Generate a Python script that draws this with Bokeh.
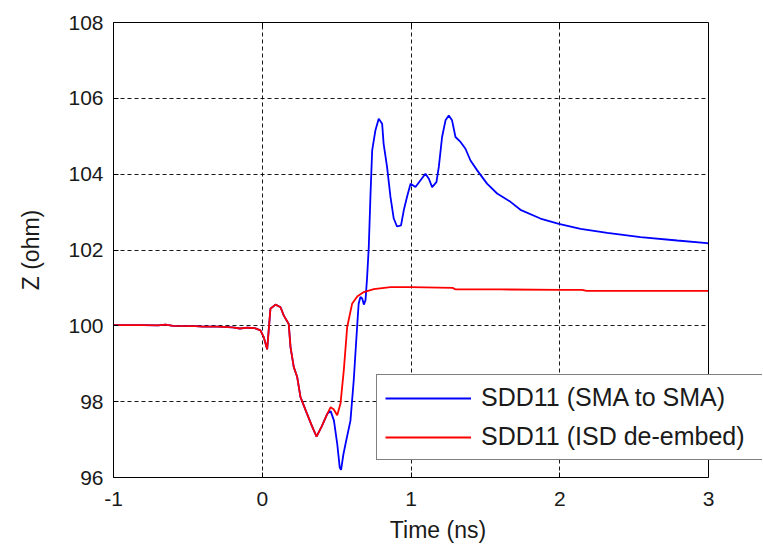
from bokeh.plotting import figure
from bokeh.models import (Range1d, FixedTicker, Legend, LegendItem, LinearAxis,
                          BoxAnnotation, Span)
from bokeh.embed import file_html
from bokeh.resources import INLINE

# Data
red_t = [-1.0, -0.8, -0.7, -0.65, -0.6, -0.45, -0.4, -0.3, -0.2, -0.15, -0.1, -0.05,
         -0.012, 0.01, 0.033, 0.055, 0.089, 0.123, 0.145, 0.178, 0.19, 0.212, 0.235,
         0.257, 0.30, 0.335, 0.365, 0.40, 0.437, 0.459, 0.48, 0.504, 0.526, 0.548,
         0.571, 0.604, 0.64, 0.683, 0.75, 0.862, 1.0, 1.28, 1.3, 1.6, 2.0, 2.15,
         2.18, 2.5, 3.0]
red_z = [100.02, 100.02, 100.01, 100.03, 100.0, 99.99, 99.98, 99.98, 99.96, 99.93,
         99.95, 99.94, 99.88, 99.70, 99.38, 100.45, 100.56, 100.49, 100.27, 100.05,
         99.44, 98.91, 98.65, 98.12, 97.69, 97.35, 97.08, 97.35, 97.68, 97.85, 97.8,
         97.64, 97.95, 98.82, 99.97, 100.58, 100.78, 100.89, 100.97, 101.02, 101.02,
         101.0, 100.96, 100.96, 100.95, 100.95, 100.92, 100.92, 100.92]

blue_t = [-1.0, -0.8, -0.7, -0.65, -0.6, -0.45, -0.4, -0.3, -0.2, -0.15, -0.1, -0.05,
          -0.012, 0.01, 0.033, 0.055, 0.089, 0.123, 0.145, 0.178, 0.19, 0.212, 0.235,
          0.257, 0.30, 0.335, 0.365, 0.40, 0.437, 0.448, 0.46, 0.482, 0.504, 0.521,
          0.53, 0.545, 0.56, 0.593, 0.615, 0.637, 0.648, 0.66, 0.672, 0.683, 0.694,
          0.705, 0.716, 0.728, 0.739, 0.761, 0.783, 0.806, 0.816, 0.839, 0.862,
          0.884, 0.906, 0.933, 0.951, 0.973, 0.997, 1.03, 1.064, 1.097, 1.12, 1.142,
          1.171, 1.187, 1.209, 1.232, 1.254, 1.276, 1.299, 1.333, 1.366, 1.40, 1.445,
          1.511, 1.579, 1.669, 1.736, 1.87, 1.994, 2.14, 2.32, 2.543, 2.79, 2.99, 3.0]
blue_z = [100.02, 100.02, 100.01, 100.03, 100.0, 99.99, 99.98, 99.98, 99.96, 99.93,
          99.95, 99.94, 99.88, 99.70, 99.38, 100.45, 100.56, 100.49, 100.27, 100.05,
          99.44, 98.91, 98.65, 98.12, 97.69, 97.35, 97.08, 97.35, 97.68, 97.72, 97.75,
          97.5, 96.89, 96.26, 96.2, 96.6, 96.89, 97.5, 98.56, 99.93, 100.58, 100.76,
          100.72, 100.56, 100.67, 101.28, 102.07, 103.49, 104.63, 105.16, 105.46,
          105.33, 104.8, 104.19, 103.4, 102.83, 102.62, 102.65, 103.04, 103.4, 103.75,
          103.66, 103.84, 104.01, 103.88, 103.66, 103.79, 104.19, 104.98, 105.42,
          105.55, 105.42, 104.98, 104.85, 104.67, 104.36, 104.10, 103.75, 103.49,
          103.27, 103.06, 102.83, 102.69, 102.56, 102.45, 102.34, 102.25, 102.18, 102.17]

x_ticks = [-1, 0, 1, 2, 3]
y_ticks = [96, 98, 100, 102, 104, 106, 108]
labels = ["SDD11 (SMA to SMA)", "SDD11 (ISD de-embed)"]

X_MIN, X_MAX = -1, 3
Y_MIN, Y_MAX = 96, 108
# the frame is widened to the right so the legend (which overhangs the axes box
# in the reference) is not clipped; the axes box itself still ends at X_MAX
X_VIEW_MAX = X_MAX + 54 / 148.75

FONT = "Liberation Sans"
TXT = "#1a1a1a"

p = figure(width=763, height=548, x_range=Range1d(X_MIN, X_VIEW_MAX),
           y_range=Range1d(Y_MIN, Y_MAX),
           output_backend="svg", toolbar_location=None,
           min_border_left=113, min_border_right=1, min_border_top=22,
           min_border_bottom=71)
p.outline_line_color = None

bottom_axis = p.below[0]
left_axis = p.left[0]
top_axis = LinearAxis()
p.add_layout(top_axis, "above")

for ax, ticks in ((bottom_axis, x_ticks), (left_axis, y_ticks), (top_axis, x_ticks)):
    ax.ticker = FixedTicker(ticks=ticks)
    ax.major_tick_in = 5
    ax.major_tick_out = 0
    ax.minor_tick_line_color = None
    ax.axis_line_color = "black"
    ax.axis_line_width = 1
    ax.major_tick_line_color = "black"
    ax.major_label_text_font = FONT
    ax.major_label_text_font_size = "21px"
    ax.major_label_text_color = TXT
    ax.axis_label_text_font = FONT
    ax.axis_label_text_font_size = "23px"
    ax.axis_label_text_font_style = "normal"
    ax.axis_label_text_color = TXT

bottom_axis.bounds = (X_MIN, X_MAX)
top_axis.bounds = (X_MIN, X_MAX)
top_axis.major_label_overrides = {t: "" for t in x_ticks}
top_axis.major_label_standoff = 0
bottom_axis.major_label_overrides = {-1: "-1"}

bottom_axis.axis_label = "Time (ns)"
left_axis.axis_label = "Z (ohm)"
bottom_axis.major_label_standoff = 14
left_axis.major_label_standoff = 10
bottom_axis.axis_label_standoff = 8
left_axis.axis_label_standoff = 21

for g in (p.xgrid[0], p.ygrid[0]):
    g.grid_line_color = "black"
    g.grid_line_dash = "4 3"
    g.grid_line_width = 1
    g.grid_line_alpha = 0.9
p.xgrid.ticker = FixedTicker(ticks=x_ticks)
p.ygrid.ticker = FixedTicker(ticks=y_ticks)

rb = p.line(blue_t, blue_z, line_color="#0000FF", line_width=1.8)
rr = p.line(red_t, red_z, line_color="#FF0000", line_width=1.8)

# blank out the strip right of the axes box and draw its right edge
p.add_layout(BoxAnnotation(left=X_MAX, fill_color="white", fill_alpha=1,
                           line_color=None))
p.add_layout(Span(location=X_MAX, dimension="height", line_color="black",
                  line_width=1))

legend = Legend(items=[LegendItem(label=labels[0], renderers=[rb]),
                       LegendItem(label=labels[1], renderers=[rr])],
                location=(263, 17))
legend.border_line_color = "black"
legend.border_line_width = 1
legend.background_fill_color = "white"
legend.background_fill_alpha = 1
legend.padding = 8
legend.spacing = 10
legend.margin = 0
legend.glyph_width = 86
legend.glyph_height = 20
legend.label_height = 20
legend.label_width = 273
legend.label_standoff = 10
legend.label_text_font = FONT
legend.label_text_font_size = "25px"
legend.label_text_color = TXT
p.add_layout(legend, "center")

open("out.html", "w").write(file_html(p, INLINE))
